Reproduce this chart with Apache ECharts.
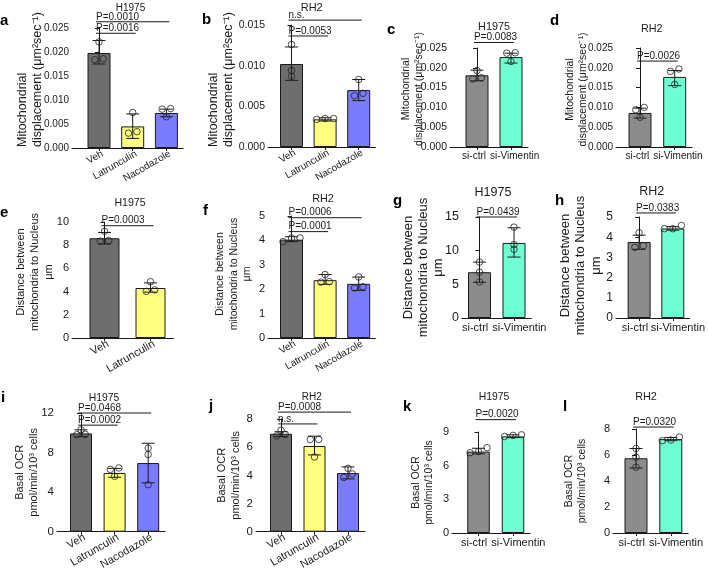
<!DOCTYPE html>
<html><head><meta charset="utf-8">
<script src="https://cdn.jsdelivr.net/npm/echarts@6/dist/echarts.min.js"></script>
<style>html,body{margin:0;padding:0;background:#fff}#c{width:708px;height:572px}</style>
</head><body><div id="c"></div>
<script>
// ================= DATA =================
const TRT = ['Veh', 'Latrunculin', 'Nacodazole'];
const SI = ['si-ctrl', 'si-Vimentin'];
const TRT2 = ['Veh', 'Latrunculin'];

// a
const A_title = 'H1975';
const A_yAxis = [0.025, 0.005, 3];
const A_mean = [0.0198, 0.0045, 0.0073];
const A_lo = [0.0175, 0.0020, 0.0065];
const A_hi = [0.0224, 0.0071, 0.0081];
const A_pts = [[0.0221, 0.0184, 0.0186], [0.0074, 0.0031, 0.0034], [0.0082, 0.0081, 0.0065]];
const A_pLab = ['P=0.0010', 'P=0.0016'];
const A_pFrom = [0, 0];
const A_pTo = [2, 1];
const A_pY = [0.0263, 0.0239];
// b
const B_title = 'RH2';
const B_yAxis = [0.015, 0.005, 3];
const B_mean = [0.0102, 0.0034, 0.0070];
const B_lo = [0.0082, 0.0032, 0.0057];
const B_hi = [0.0123, 0.0036, 0.0083];
const B_pts = [[0.0126, 0.0094, 0.0087], [0.0035, 0.0034, 0.0035], [0.0083, 0.0063, 0.0066]];
const B_pLab = ['n.s.', 'P=0.0053'];
const B_pFrom = [0, 0];
const B_pTo = [2, 1];
const B_pY = [0.0156, 0.01365];
// c
const C_title = 'H1975';
const C_yAxis = [0.025, 0.005, 3];
const C_mean = [0.0181, 0.0227];
const C_lo = [0.0167, 0.0212];
const C_hi = [0.0194, 0.0237];
const C_pts = [[0.0193, 0.0172, 0.0175], [0.0216, 0.0237, 0.0238]];
const C_pLab = ['P=0.0083'];
const C_pFrom = [0];
const C_pTo = [1];
const C_pY = [0.0264];
// d
const D_title = 'RH2';
const D_yAxis = [0.025, 0.005, 3];
const D_mean = [0.0086, 0.0177];
const D_lo = [0.0073, 0.0155];
const D_hi = [0.0098, 0.0193];
const D_pts = [[0.0075, 0.0100, 0.0094], [0.0158, 0.0197, 0.0191]];
const D_pLab = ['P=0.0026'];
const D_pFrom = [0];
const D_pTo = [1];
const D_pY = [0.0217];
// e
const E_title = 'H1975';
const E_yAxis = [10, 2, 0];
const E_mean = [8.6, 4.31];
const E_lo = [8.1, 3.95];
const E_hi = [9.1, 4.75];
const E_pts = [[9.2, 8.35, 8.4], [4.85, 4.02, 4.15]];
const E_pLab = ['P=0.0003'];
const E_pFrom = [0];
const E_pTo = [1];
const E_pY = [9.68];
// f
const F_title = 'RH2';
const F_yAxis = [5, 1, 0];
const F_mean = [4.03, 2.37, 2.22];
const F_lo = [3.95, 2.2, 1.95];
const F_hi = [4.15, 2.6, 2.5];
const F_pts = [[4.1, 3.95, 4.1], [2.6, 2.29, 2.31], [2.5, 2.05, 2.1]];
const F_pLab = ['P=0.0006', 'P=0.0001'];
const F_pFrom = [0, 0];
const F_pTo = [2, 1];
const F_pY = [4.93, 4.36];
// g
const G_title = 'H1975';
const G_yAxis = [15, 5, 0];
const G_mean = [6.8, 11.15];
const G_lo = [5.3, 9.05];
const G_hi = [8.3, 13.4];
const G_pts = [[8.3, 6.8, 5.35], [13.5, 10.9, 10.2]];
const G_pLab = ['P=0.0439'];
const G_pFrom = [0];
const G_pTo = [1];
const G_pY = [15];
// h
const H_title = 'RH2';
const H_yAxis = [5, 1, 0];
const H_mean = [3.76, 4.43];
const H_lo = [3.4, 4.35];
const H_hi = [4.1, 4.52];
const H_pts = [[4.22, 3.5, 3.58], [4.58, 4.42, 4.42]];
const H_pLab = ['P=0.0383'];
const H_pFrom = [0];
const H_pTo = [1];
const H_pY = [5.2];
// i
const I_title = 'H1975';
const I_yAxis = [12, 4, 0];
const I_mean = [9.94, 5.94, 6.94];
const I_lo = [9.6, 5.5, 4.94];
const I_hi = [10.3, 6.4, 8.94];
const I_pts = [[10.3, 9.8, 9.85], [5.6, 6.3, 6.45], [8.45, 7.8, 4.75]];
const I_pLab = ['P=0.0468', 'P=0.0002'];
const I_pFrom = [0, 0];
const I_pTo = [2, 1];
const I_pY = [12.0, 10.77];
// j
const J_title = 'RH2';
const J_yAxis = [8, 2, 0];
const J_mean = [6.95, 6.08, 4.16];
const J_lo = [6.75, 5.45, 3.75];
const J_hi = [7.1, 6.78, 4.6];
const J_pts = [[7.2, 6.8, 6.9], [6.55, 6.55, 5.3], [4.5, 4.1, 3.85]];
const J_pLab = ['P=0.0008', 'n.s.'];
const J_pFrom = [0, 0];
const J_pTo = [2, 1];
const J_pY = [8.49, 7.65];
// k
const K_title = 'H1975';
const K_yAxis = [9, 3, 0];
const K_mean = [7.25, 8.61];
const K_lo = [7.05, 8.5];
const K_hi = [7.55, 8.75];
const K_pts = [[7.6, 7.15, 7.25], [8.6, 8.75, 8.7]];
const K_pLab = ['P=0.0020'];
const K_pFrom = [0];
const K_pTo = [1];
const K_pY = [10.1];
// l
const L_title = 'RH2';
const L_yAxis = [8, 2, 0];
const L_mean = [5.75, 7.22];
const L_lo = [5.0, 7.1];
const L_hi = [6.5, 7.35];
const L_pts = [[6.5, 5.83, 5.06], [7.1, 7.38, 7.15]];
const L_pLab = ['P=0.0320'];
const L_pFrom = [0];
const L_pTo = [1];
const L_pY = [8.15];

const NAME_DISP = ['Mitochondrial', 'displacement (μm²sec⁻¹)'];
const NAME_DIST = ['Distance between', 'mitochondria to Nucleus', 'μm'];
const NAME_OCR = ['Basal OCR', 'pmol/min/10³ cells'];

// ================= STYLE / LAYOUT =================
const FONTNAME = 'Liberation Sans';
const FONT = '"Liberation Sans", Arial, Helvetica, sans-serif';
const INK = '#1a1a1a';
const COLORS = { 'Veh': '#6e6e6e', 'Latrunculin': '#ffff80', 'Nacodazole': '#7b7bff', 'si-ctrl': '#8c8c8c', 'si-Vimentin': '#6effd2' };
const JIT = 8.5, THR = 4, EXT = 3;

const panels = [
  { letter: 'a', cats: TRT, title: A_title, ya: A_yAxis, mean: A_mean, lo: A_lo, hi: A_hi, pts: A_pts, pLab: A_pLab, pFrom: A_pFrom, pTo: A_pTo, pY: A_pY, name: NAME_DISP,
    L: { x: 72, top: 28, bottom: 148, d0: 27, s: 33.7, bw: 23, rot: 30, tick: 10, xl: 10, nSize: 12.5, nLH: 15, nGap: 27, nBottom: 147, t: [130.5, 8, 10], lt: [0, 13] } },
  { letter: 'b', cats: TRT, title: B_title, ya: B_yAxis, mean: B_mean, lo: B_lo, hi: B_hi, pts: B_pts, pLab: B_pLab, pFrom: B_pFrom, pTo: B_pTo, pY: B_pY, name: NAME_DISP,
    L: { x: 268, top: 25, bottom: 147, d0: 23.5, s: 33.6, bw: 23, rot: 30, tick: 10.5, xl: 10, nSize: 12.5, nLH: 15, nGap: 32, nBottom: 147, t: [311.7, 8, 11], lt: [202, 12] } },
  { letter: 'c', cats: SI, title: C_title, ya: C_yAxis, mean: C_mean, lo: C_lo, hi: C_hi, pts: C_pts, pLab: C_pLab, pFrom: C_pFrom, pTo: C_pTo, pY: C_pY, name: NAME_DISP,
    L: { x: 450, top: 48, bottom: 147, d0: 27, s: 34, bw: 23, rot: 0, tick: 10.5, xl: 10, nSize: 10.5, nLH: 12.5, nGap: 25, shift: 8.5, t: [494, 27, 10.8], lt: [387, 22] } },
  { letter: 'd', cats: SI, title: D_title, ya: D_yAxis, mean: D_mean, lo: D_lo, hi: D_hi, pts: D_pts, pLab: D_pLab, pFrom: D_pFrom, pTo: D_pTo, pY: D_pY, name: NAME_DISP,
    L: { x: 616, top: 48, bottom: 147, d0: 24, s: 34.7, bw: 23, rot: 0, tick: 10, xl: 10, nSize: 10.5, nLH: 12.5, nGap: 27, shift: 8, t: [651.7, 29, 10.8], lt: [550, 13] } },
  { letter: 'e', cats: TRT2, title: E_title, ya: E_yAxis, mean: E_mean, lo: E_lo, hi: E_hi, pts: E_pts, pLab: E_pLab, pFrom: E_pFrom, pTo: E_pTo, pY: E_pY, name: NAME_DIST,
    L: { x: 72, top: 222, bottom: 338, d0: 32.5, s: 46, bw: 30, rot: 30, tick: 11, xl: 11, nSize: 11, nLH: 14, nGap: 16, shift: 8, t: [130, 203, 10.6], lt: [0, 205] } },
  { letter: 'f', cats: TRT, title: F_title, ya: F_yAxis, mean: F_mean, lo: F_lo, hi: F_hi, pts: F_pts, pLab: F_pLab, pFrom: F_pFrom, pTo: F_pTo, pY: F_pY, name: NAME_DIST,
    L: { x: 268, top: 216, bottom: 338, d0: 23.5, s: 33.6, bw: 23, rot: 30, tick: 11, xl: 10, nSize: 10.5, nLH: 13.5, nGap: 14, shift: 3, t: [323, 199, 10.8], lt: [203, 203] } },
  { letter: 'g', cats: SI, title: G_title, ya: G_yAxis, mean: G_mean, lo: G_lo, hi: G_hi, pts: G_pts, pLab: G_pLab, pFrom: G_pFrom, pTo: G_pTo, pY: G_pY, name: NAME_DIST,
    L: { x: 462, top: 217, bottom: 318, d0: 17.5, s: 34.5, bw: 23, rot: 0, tick: 12.5, xl: 11, nSize: 13, nLH: 15, nGap: 16, shift: 0, t: [493, 193, 12.5], lt: [393, 193] } },
  { letter: 'h', cats: SI, title: H_title, ya: H_yAxis, mean: H_mean, lo: H_lo, hi: H_hi, pts: H_pts, pLab: H_pLab, pFrom: H_pFrom, pTo: H_pTo, pY: H_pY, name: NAME_DIST,
    L: { x: 616, top: 217, bottom: 318, d0: 24, s: 35, bw: 23, rot: 0, tick: 12, xl: 11, nSize: 13, nLH: 15.5, nGap: 12, shift: 2, t: [651.7, 192, 12.5], lt: [555, 193] } },
  { letter: 'i', cats: TRT, title: I_title, ya: I_yAxis, mean: I_mean, lo: I_lo, hi: I_hi, pts: I_pts, pLab: I_pLab, pFrom: I_pFrom, pTo: I_pTo, pY: I_pY, name: NAME_OCR,
    L: { x: 57, top: 413, bottom: 533, d0: 24, s: 33.6, bw: 22, rot: 30, tick: 11.5, xl: 11, nSize: 11, nLH: 14, nGap: 16, shift: 0, t: [104, 398, 10.4], lt: [1, 390] } },
  { letter: 'j', cats: TRT, title: J_title, ya: J_yAxis, mean: J_mean, lo: J_lo, hi: J_hi, pts: J_pts, pLab: J_pLab, pFrom: J_pFrom, pTo: J_pTo, pY: J_pY, name: NAME_OCR,
    L: { x: 256, top: 419, bottom: 533, d0: 25, s: 33.5, bw: 22, rot: 30, tick: 11.5, xl: 11, nSize: 11, nLH: 14, nGap: 13, shift: 0, t: [311.7, 397, 10], lt: [209, 398] } },
  { letter: 'k', cats: SI, title: K_title, ya: K_yAxis, mean: K_mean, lo: K_lo, hi: K_hi, pts: K_pts, pLab: K_pLab, pFrom: K_pFrom, pTo: K_pTo, pY: K_pY, name: NAME_OCR,
    L: { x: 452, top: 432, bottom: 533, d0: 26.5, s: 34.5, bw: 22.5, rot: 0, tick: 11, xl: 11, nSize: 10.5, nLH: 13.5, nGap: 16, shift: 0, t: [494, 397, 10.4], lt: [403, 399] } },
  { letter: 'l', cats: SI, title: L_title, ya: L_yAxis, mean: L_mean, lo: L_lo, hi: L_hi, pts: L_pts, pLab: L_pLab, pFrom: L_pFrom, pTo: L_pTo, pY: L_pY, name: NAME_OCR,
    L: { x: 613, top: 429, bottom: 533, d0: 23, s: 34.8, bw: 23, rot: 0, tick: 11, xl: 11, nSize: 10.5, nLH: 13.5, nGap: 24, shift: 0, t: [646, 397, 10.8], lt: [563, 399] } }
];

const mctx = document.createElement('canvas').getContext('2d');
function textW(str, size) { mctx.font = size + 'px "' + FONTNAME + '"'; return mctx.measureText(str).width; }

function jitterOffsets(vals, pxPerUnit) {
  const idx = vals.map((v, k) => k).sort((p, q) => vals[p] - vals[q]);
  const off = new Array(vals.length).fill(0);
  let cluster = [idx[0]];
  const flush = () => { const m = cluster.length; cluster.forEach((c, j) => { off[c] = (j - (m - 1) / 2) * JIT; }); };
  for (let j = 1; j < idx.length; j++) {
    if ((vals[idx[j]] - vals[idx[j - 1]]) * pxPerUnit < THR) cluster.push(idx[j]);
    else { flush(); cluster = [idx[j]]; }
  }
  flush();
  return off;
}

const grids = [], xAxes = [], yAxes = [], series = [], graphics = [];

panels.forEach((P, i) => {
  const L = P.L, n = P.cats.length;
  const yMax = P.ya[0], yStep = P.ya[1], dec = P.ya[2];
  const xmin = -L.d0 / L.s, xmax = n - 1 + 0.5;
  const h = L.bottom - L.top;
  const idx = P.cats.map((c, k) => k);
  grids.push({ left: L.x, top: L.top, width: (xmax - xmin) * L.s, height: h });

  // x labels: push horizontal neighbours apart when they would collide
  let padL = 0, padR = 0;
  if (L.rot === 0 && n === 2) {
    const over = (textW(P.cats[0], L.xl) + textW(P.cats[1], L.xl)) / 2 + 4 - L.s;
    if (over > 0) { padL = over * 0.45; padR = over * 0.55; }
  }
  const xlStyle = { fontSize: L.xl, color: INK, fontFamily: FONT };
  const xLabel = {
    customValues: idx, showMinLabel: true, showMaxLabel: true, hideOverlap: false,
    rotate: L.rot, fontSize: L.xl, color: INK, margin: 4, fontFamily: FONT
  };
  if (L.rot === 0) {
    xLabel.formatter = v => { const k = Math.round(v); const c = P.cats[k] || ''; return k === 0 ? '{p|' + c + '}' : '{q|' + c + '}'; };
    xLabel.rich = { p: Object.assign({ padding: [0, 2 * padL, 0, 0] }, xlStyle), q: Object.assign({ padding: [0, 0, 0, 2 * padR] }, xlStyle) };
  } else {
    xLabel.formatter = v => P.cats[Math.round(v)] || '';
    xLabel.margin = 7;
    xLabel.padding = [12, -4, 0, 0];
  }
  xAxes.push({
    gridIndex: i, type: 'value', min: xmin, max: xmax,
    axisLine: { show: true, lineStyle: { color: INK, width: 1 } },
    axisTick: { show: true, customValues: idx, length: 3, lineStyle: { color: INK } },
    axisLabel: xLabel,
    splitLine: { show: false }
  });

  // y name: multi-line rotated title
  const lh = L.nLH;
  const mid = (L.top + L.bottom) / 2;
  let pad, nameText;
  const tokStyle = { fontSize: L.nSize, lineHeight: lh, fontFamily: FONT, color: INK };
  if (L.nBottom != null) {
    const W = Math.max.apply(null, P.name.map(s => textW(s, L.nSize)));
    const Pd = W - 2 * (L.nBottom - mid);
    pad = Pd >= 0 ? [0, 0, 0, Pd] : [0, -Pd, 0, 0];
    nameText = P.name.map(s => '{l|' + s + '}').join('\n');
  } else {
    pad = L.shift >= 0 ? [0, 0, 0, 2 * L.shift] : [0, -2 * L.shift, 0, 0];
    nameText = P.name.map(s => '{c|' + s + '}').join('\n');
  }
  yAxes.push({
    gridIndex: i, type: 'value', min: 0, max: yMax, interval: yStep,
    axisLine: { show: true, lineStyle: { color: INK, width: 1 } },
    axisTick: { show: true, length: 4, lineStyle: { color: INK } },
    axisLabel: { formatter: v => v.toFixed(dec), fontSize: L.tick, color: INK, margin: 3, fontFamily: FONT },
    splitLine: { show: false },
    name: nameText, nameLocation: 'middle', nameRotate: 90, nameGap: L.nGap, nameMoveOverlap: false,
    nameTextStyle: { fontSize: L.nSize, lineHeight: lh, fontFamily: FONT, color: INK, padding: pad,
      rich: { l: Object.assign({ align: 'left' }, tokStyle), c: Object.assign({ align: 'center' }, tokStyle) } }
  });

  series.push({
    type: 'bar', xAxisIndex: i, yAxisIndex: i, barWidth: L.bw, silent: true, z: 2,
    itemStyle: { borderColor: INK, borderWidth: 1 },
    data: P.mean.map((m, k) => ({ value: [k, m], itemStyle: { color: COLORS[P.cats[k]] } }))
  });
  series.push({
    type: 'custom', xAxisIndex: i, yAxisIndex: i, silent: true, z: 3,
    encode: { x: 0, y: [1, 2] },
    data: P.lo.map((l, k) => [k, l, P.hi[k]]),
    renderItem: (params, api) => {
      const x = api.value(0);
      const a = api.coord([x, api.value(1)]), b = api.coord([x, api.value(2)]);
      const c = 6.5, st = { stroke: INK, lineWidth: 1 };
      return { type: 'group', children: [
        { type: 'line', shape: { x1: a[0], y1: a[1], x2: b[0], y2: b[1] }, style: st },
        { type: 'line', shape: { x1: a[0] - c, y1: a[1], x2: a[0] + c, y2: a[1] }, style: st },
        { type: 'line', shape: { x1: b[0] - c, y1: b[1], x2: b[0] + c, y2: b[1] }, style: st }
      ] };
    }
  });
  const pxPerUnit = h / yMax;
  const sData = [];
  P.pts.forEach((vals, k) => {
    const off = jitterOffsets(vals, pxPerUnit);
    vals.forEach((v, j) => sData.push({ value: [k, v], symbolOffset: [off[j], 0] }));
  });
  series.push({
    type: 'scatter', xAxisIndex: i, yAxisIndex: i, silent: true, z: 4, symbol: 'circle', symbolSize: 6.5,
    itemStyle: { color: 'rgba(0,0,0,0)', borderColor: '#222', borderWidth: 1 },
    data: sData
  });
  series.push({
    type: 'custom', xAxisIndex: i, yAxisIndex: i, silent: true, z: 5,
    encode: { x: [0, 1], y: 2 },
    data: P.pFrom.map((f, k) => [f, P.pTo[k], P.pY[k]]),
    renderItem: (params, api) => {
      const y = api.value(2);
      const p1 = api.coord([api.value(0), y]), p2 = api.coord([api.value(1), y]);
      return { type: 'group', children: [
        { type: 'line', shape: { x1: p1[0] - EXT, y1: p1[1], x2: p2[0] + EXT, y2: p2[1] }, style: { stroke: INK, lineWidth: 1 } },
        { type: 'text', x: p1[0] - EXT, y: p1[1], style: { text: P.pLab[params.dataIndex], fontSize: 10, fontFamily: FONT, fill: INK, align: 'left', verticalAlign: 'bottom' } }
      ] };
    }
  });
  graphics.push({ type: 'text', x: L.t[0], y: L.t[1], silent: true,
    style: { text: P.title, fontSize: L.t[2], fontFamily: FONT, fill: INK, align: 'center', verticalAlign: 'middle' } });
  graphics.push({ type: 'text', x: L.lt[0], y: L.lt[1], silent: true,
    style: { text: P.letter, fontSize: 15, fontWeight: 'bold', fontFamily: FONT, fill: '#000', align: 'left', verticalAlign: 'alphabetic' } });
});

const chart = echarts.init(document.getElementById('c'), null, { renderer: 'canvas' });
chart.setOption({
  animation: false,
  backgroundColor: '#ffffff',
  grid: grids, xAxis: xAxes, yAxis: yAxes, series: series,
  graphic: { elements: graphics }
});
</script></body></html>
